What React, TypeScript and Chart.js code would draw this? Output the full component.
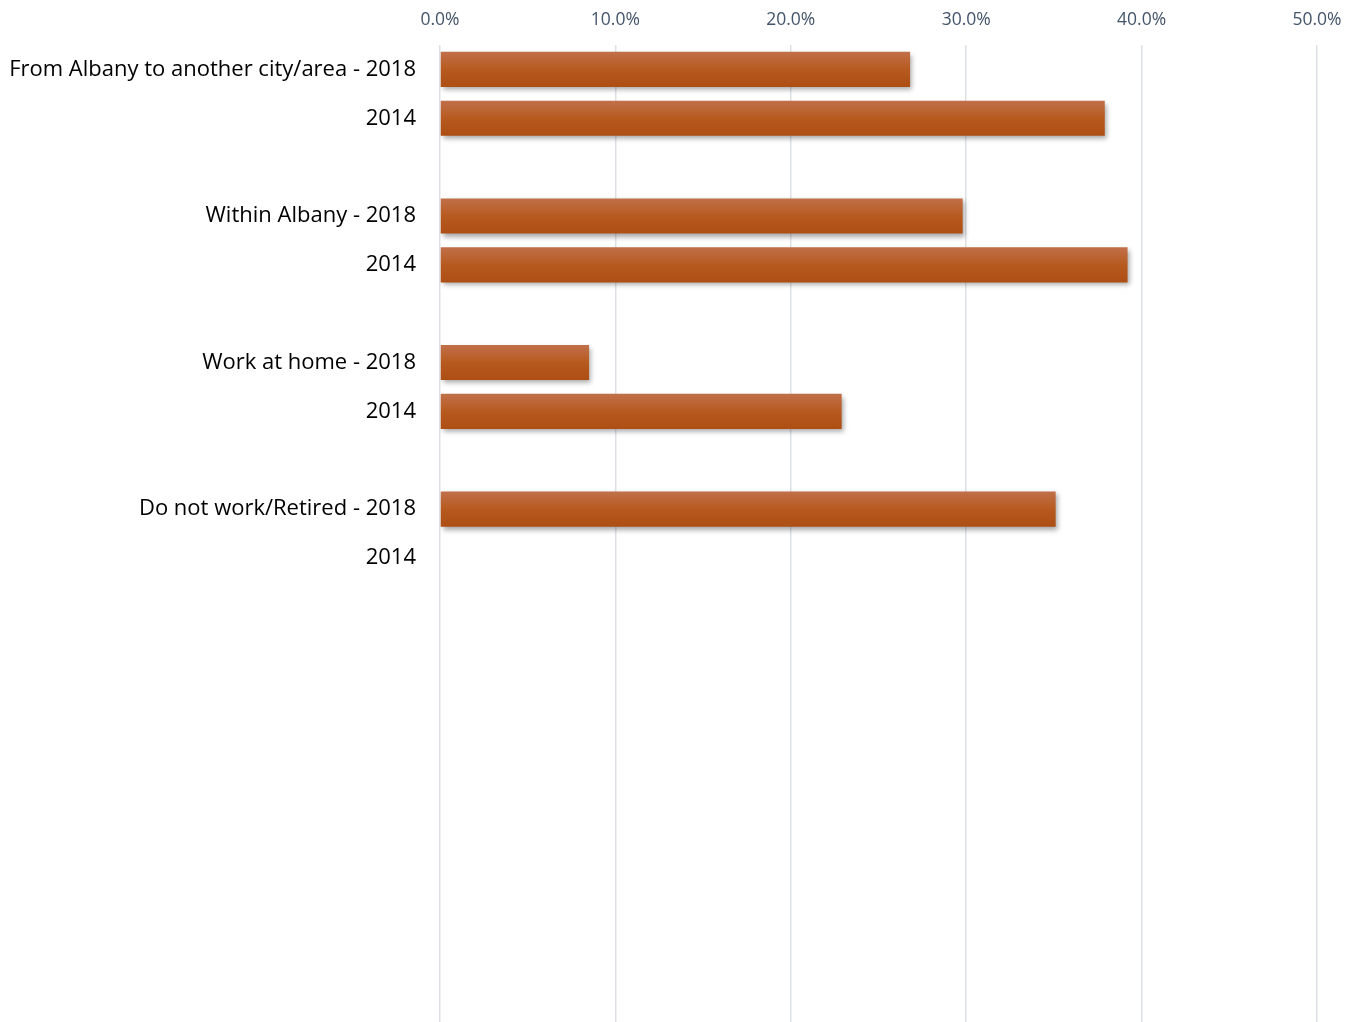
import React, { useEffect, useRef } from "react";
import { Chart, registerables } from "chart.js";

Chart.register(...registerables);

const categories: string[] = [
  "From Albany to another city/area - 2018",
  "2014",
  "",
  "Within Albany - 2018",
  "2014",
  "",
  "Work at home - 2018",
  "2014",
  "",
  "Do not work/Retired - 2018",
  "2014",
  "", "", "", "", "", "", "", "", "",
];

const values: (number | null)[] = [
  26.8, 37.9, null,
  29.8, 39.2, null,
  8.5, 22.9, null,
  35.1, null,
  null, null, null, null, null, null, null, null, null,
];

const xTicks: number[] = [0, 10, 20, 30, 40, 50];

const shadowPlugin = {
  id: "barShadow",
  beforeDatasetsDraw(chart: any) {
    const ctx = chart.ctx;
    ctx.save();
    ctx.shadowColor = "rgba(0,0,0,0.35)";
    ctx.shadowBlur = 5;
    ctx.shadowOffsetX = 2;
    ctx.shadowOffsetY = 3;
  },
  afterDatasetsDraw(chart: any) {
    chart.ctx.restore();
  },
};

export default function App() {
  const ref = useRef<HTMLCanvasElement | null>(null);

  useEffect(() => {
    document.body.style.margin = "0";
    const canvas = ref.current;
    if (!canvas) return;
    const chart = new Chart(canvas, {
      type: "bar",
      data: {
        labels: categories,
        datasets: [
          {
            data: values,
            backgroundColor: (c: any) => {
              const meta = c.chart.getDatasetMeta(0);
              const el = meta && meta.data ? meta.data[c.dataIndex] : null;
              if (!el || el.y == null || !el.height || isNaN(el.y)) return "#b5561c";
              const top = el.y - el.height / 2;
              const bot = el.y + el.height / 2;
              const g = c.chart.ctx.createLinearGradient(0, top, 0, bot);
              g.addColorStop(0, "#c1704a");
              g.addColorStop(0.5, "#b75a20");
              g.addColorStop(1, "#ad4e14");
              return g;
            },
            borderWidth: 0,
            barPercentage: 0.72,
            categoryPercentage: 1,
          },
        ],
      },
      options: {
        indexAxis: "y",
        animation: false,
        responsive: true,
        maintainAspectRatio: false,
        layout: { padding: { left: 0, right: 41, top: 0, bottom: 0 } },
        plugins: {
          legend: { display: false },
          tooltip: { enabled: false },
        },
        scales: {
          x: {
            position: "top",
            min: 0,
            max: 50,
            afterBuildTicks: (scale: any) => {
              scale.ticks = xTicks.map((v) => ({ value: v }));
            },
            afterFit: (scale: any) => {
              scale.height = 45;
              scale.paddingLeft = 0;
              scale.paddingRight = 0;
            },
            ticks: {
              callback: (v: any) => Number(v).toFixed(1) + "%",
              color: "#44546a",
              font: { family: "'Open Sans', Lato, sans-serif", size: 17.5 },
              padding: 14,
            },
            grid: {
              color: "#dde1e6",
              lineWidth: 1.5,
              drawTicks: false,
            },
            border: { display: false },
          },
          y: {
            afterFit: (scale: any) => {
              scale.width = 440;
              scale.paddingTop = 0;
              scale.paddingBottom = 0;
            },
            ticks: {
              color: "#000000",
              font: { family: "'Open Sans', Lato, sans-serif", size: 22 },
              padding: 24,
              autoSkip: false,
            },
            grid: { display: false, drawTicks: false },
            border: { display: false },
          },
        },
      },
      plugins: [shadowPlugin],
    } as any);
    chart.update();
    return () => chart.destroy();
  }, []);

  return (
    <div style={{ width: 1358, height: 1022, position: "relative" }}>
      <canvas ref={ref} />
    </div>
  );
}
